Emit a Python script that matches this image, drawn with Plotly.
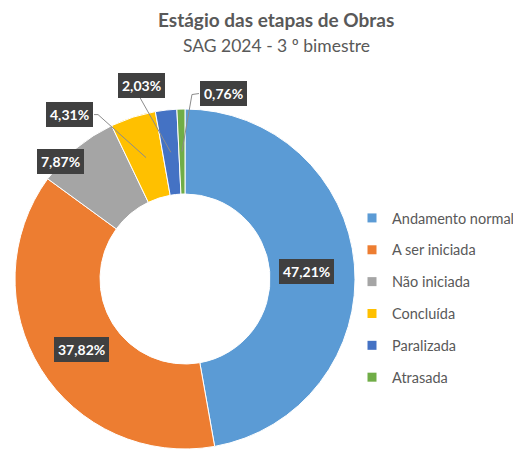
import math
import plotly.graph_objects as go

# ---- data ----
categories = ["Andamento normal", "A ser iniciada", "Não iniciada", "Concluída", "Paralizada", "Atrasada"]
values = [47.21, 37.82, 7.87, 4.31, 2.03, 0.76]
value_labels = ["47,21%", "37,82%", "7,87%", "4,31%", "2,03%", "0,76%"]
colors = ["#5B9BD5", "#ED7D31", "#A5A5A5", "#FFC000", "#4472C4", "#70AD47"]
title_text = "Estágio das etapas de Obras"
subtitle_text = "SAG 2024 - 3 º bimestre"

# ---- layout constants (style) ----
W, H = 513, 460
CX, CY, R = 185, 279, 170
HOLE = 0.5
FONT = "Lato"
TXT = "#595959"

# label offsets (pixels) from each slice's mid-ring point
label_offsets = [(-6, 4), (5, 3), (-43, -19), (-77, -43), (-29, -67), (42, -58)]
# leader line waypoints relative to label centre (None = no line)
leader_paths = [None, None, None, [(29, 0), (25, 0)], [(-2, 12)], [(-32, 1), (-25, 0)]]


def px(x):
    return x / W


def py(y):
    return 1 - y / H


fig = go.Figure()
fig.add_trace(go.Pie(
    labels=categories, values=values, hole=HOLE, sort=False,
    direction="clockwise", rotation=0,
    marker=dict(colors=colors, line=dict(color="white", width=1)),
    textinfo="none", showlegend=False, hoverinfo="label+percent",
    domain=dict(x=[px(CX - R), px(CX + R)], y=[py(CY + R), py(CY - R)]),
))

# legend entries (one group each, to get Excel-like spacing)
for cat, col in zip(categories, colors):
    fig.add_trace(go.Scatter(
        x=[None], y=[None], mode="markers", name=cat, legendgroup=cat,
        marker=dict(symbol="square", size=9, color=col), hoverinfo="skip",
    ))

total = sum(values)
Rm = R * (1 + HOLE) / 2
annotations = []
shapes = []
cum = 0.0
for i, v in enumerate(values):
    theta = 2 * math.pi * (cum + v / 2) / total
    cum += v
    x0 = CX + Rm * math.sin(theta)
    y0 = CY - Rm * math.cos(theta)
    dx, dy = label_offsets[i]
    lx, ly = x0 + dx, y0 + dy
    if leader_paths[i]:
        pts = [(x0, y0)] + [(lx + a, ly + b) for a, b in leader_paths[i]]
        path = "M " + " L ".join(f"{px(a):.5f},{py(b):.5f}" for a, b in pts)
        shapes.append(dict(type="path", path=path, xref="paper", yref="paper",
                           line=dict(color="#8C8C8C", width=1)))
    annotations.append(dict(
        x=px(lx), y=py(ly), xref="paper", yref="paper", showarrow=False,
        text=f"<b>{value_labels[i]}</b>", xanchor="center", yanchor="middle",
        font=dict(family=FONT, size=14, color="white"),
        bgcolor="#404040", bordercolor="#404040", borderwidth=1, borderpad=3,
    ))

annotations.append(dict(x=px(276), y=py(20), xref="paper", yref="paper", showarrow=False,
                        text=f"<b>{title_text}</b>", xanchor="center", yanchor="middle",
                        font=dict(family=FONT, size=19, color=TXT)))
annotations.append(dict(x=px(276), y=py(46), xref="paper", yref="paper", showarrow=False,
                        text=subtitle_text, xanchor="center", yanchor="middle",
                        font=dict(family=FONT, size=17.5, color=TXT)))

fig.update_layout(
    width=W, height=H, autosize=False,
    margin=dict(l=0, r=0, t=0, b=0, autoexpand=False),
    paper_bgcolor="white", plot_bgcolor="white",
    xaxis=dict(visible=False), yaxis=dict(visible=False),
    annotations=annotations, shapes=shapes,
    showlegend=True,
    legend=dict(x=px(352), y=py(202), xanchor="left", yanchor="top",
                traceorder="grouped", tracegroupgap=10,
                font=dict(family=FONT, size=14.5, color=TXT),
                bgcolor="rgba(0,0,0,0)", itemclick=False, itemdoubleclick=False),
    font=dict(family=FONT, color=TXT),
)

fig.write_html("out.html", config={"displayModeBar": False},
               post_script="document.body.style.margin='0';document.body.style.padding='0';")
